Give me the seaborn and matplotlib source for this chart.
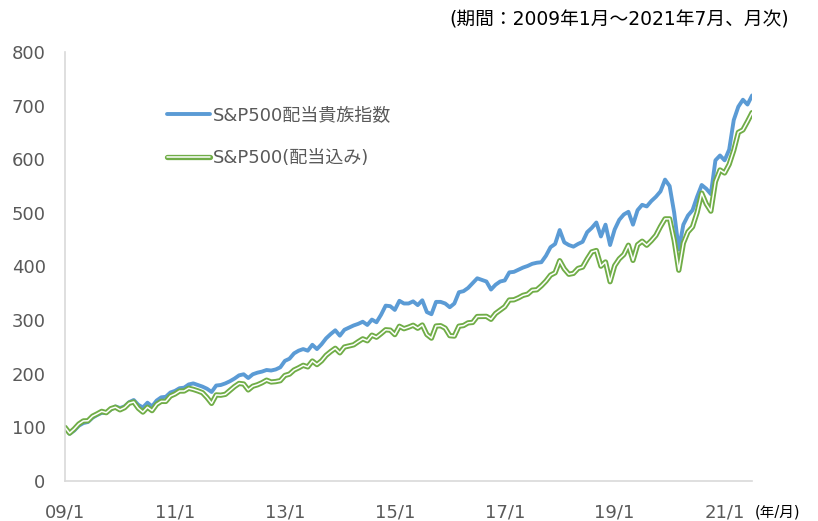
import numpy as np
import pandas as pd
import matplotlib
matplotlib.use('Agg')
import matplotlib.pyplot as plt
import matplotlib.patheffects as pe
import seaborn as sns

# monthly values, 2009/1 - 2021/7 (2009/1 = 100)
aristocrats = [
    100, 88, 94, 103, 108, 110, 118, 123, 127, 127, 133, 139,
    136, 139, 147, 151, 142, 137, 146, 139, 150, 156, 157, 165,
    168, 173, 174, 180, 182, 179, 176, 172, 166, 178, 179, 182,
    186, 191, 197, 199, 192, 199, 202, 204, 207, 206, 208, 212,
    224, 228, 238, 243, 246, 243, 254, 246, 255, 266, 274, 281,
    271, 282, 286, 290, 293, 297, 291, 301, 296, 310, 327, 326,
    319, 336, 331, 331, 335, 328, 337, 315, 311, 334, 334, 331,
    324, 331, 352, 354, 360, 369, 378, 375, 372, 357, 366, 372,
    374, 389, 390, 394, 398, 401, 405, 407, 408, 420, 436, 442,
    468, 445, 440, 437, 442, 446, 464, 472, 482, 456, 478, 440,
    469, 487, 497, 502, 478, 505, 515, 512, 522, 530, 540, 562,
    550, 500, 432, 478, 495, 505, 530, 552, 545, 535, 598, 607,
    598, 618, 673, 698, 711, 702, 719,
]
sp500_tr = [
    100.0, 89.2, 96.9, 106.2, 112.0, 112.3, 120.8, 125.1, 129.8, 127.4, 134.9, 137.6,
    132.7, 136.7, 145.0, 147.4, 135.6, 128.5, 137.5, 131.2, 143.0, 148.5, 148.4, 158.4,
    162.2, 167.7, 167.8, 172.9, 170.8, 168.0, 164.7, 155.6, 144.7, 160.5, 160.0, 161.6,
    168.9, 176.1, 181.9, 180.9, 169.8, 176.8, 179.4, 183.2, 188.0, 184.6, 185.4, 187.1,
    196.8, 199.3, 206.9, 211.0, 215.7, 212.8, 223.7, 217.1, 224.0, 234.3, 241.3, 247.4,
    239.0, 249.8, 251.9, 253.9, 259.7, 265.1, 261.5, 271.9, 268.1, 274.8, 282.0, 281.3,
    273.0, 288.5, 284.0, 286.9, 290.4, 284.8, 290.9, 273.1, 266.4, 289.0, 289.6, 285.0,
    271.0, 270.3, 288.7, 289.9, 294.9, 295.7, 306.7, 306.9, 307.0, 301.5, 312.4, 318.6,
    324.9, 337.5, 337.9, 341.6, 346.2, 348.4, 355.8, 356.6, 364.0, 372.8, 383.9, 388.3,
    410.8, 395.5, 385.5, 387.2, 396.3, 398.9, 413.9, 427.2, 429.8, 400.6, 408.4, 371.6,
    401.5, 414.2, 422.3, 439.7, 411.4, 440.5, 447.1, 439.7, 448.1, 458.0, 474.4, 488.8,
    488.8, 448.5, 393.0, 443.6, 464.5, 473.9, 500.8, 536.8, 516.6, 503.2, 558.3, 580.0,
    574.4, 590.5, 616.6, 650.1, 654.7, 670.4, 686.9,
]
tick_labels = ['09/1', '11/1', '13/1', '15/1', '17/1', '19/1', '21/1']
yticks = [0, 100, 200, 300, 400, 500, 600, 700, 800]

df = pd.DataFrame({'month': np.arange(len(aristocrats)),
                   'S&P500配当貴族指数': aristocrats,
                   'S&P500(配当込み)': sp500_tr})

sns.set_theme(style='white')
plt.rcParams['font.family'] = ['DejaVu Sans', 'Noto Sans CJK JP']
plt.rcParams['axes.unicode_minus'] = False

grey = '#595959'
axcol = '#d9d9d9'

fig = plt.figure(figsize=(8.18, 5.21), dpi=100)
ax = fig.add_axes([0.0795, 0.0768, 0.8399, 0.8234])

sns.lineplot(data=df, x='month', y='S&P500配当貴族指数', ax=ax, color='#5B9BD5',
             linewidth=2.8, label='S&P500配当貴族指数')
sns.lineplot(data=df, x='month', y='S&P500(配当込み)', ax=ax, color='white',
             linewidth=1.1, label='S&P500(配当込み)',
             path_effects=[pe.Stroke(linewidth=3.8, foreground='#70AD47'), pe.Normal()])

ax.set_xlim(0, len(aristocrats) - 1)
ax.set_ylim(0, 800)
ax.set_xticks(np.arange(0, len(aristocrats), 24))
ax.set_xticklabels(tick_labels)
ax.set_yticks(yticks)
ax.set_xlabel('')
ax.set_ylabel('')

for s in ['top', 'right']:
    ax.spines[s].set_visible(False)
for s in ['left', 'bottom']:
    ax.spines[s].set_color(axcol)
    ax.spines[s].set_linewidth(1.2)
ax.tick_params(axis='both', which='major', direction='out', length=5, width=1.2,
               color=axcol, labelcolor=grey, labelsize=13)
ax.tick_params(axis='y', pad=9)
ax.tick_params(axis='x', pad=11)
ax.grid(False)

leg = ax.legend(loc='center left', bbox_to_anchor=(0.1485, 0.803), frameon=False,
                fontsize=13, handlelength=2.4, handletextpad=0.15,
                labelspacing=1.4, borderpad=0, borderaxespad=0)
for t in leg.get_texts():
    t.set_color(grey)

fig.text(0.9645, 0.9616, '(期間：2009年1月～2021年7月、月次)', ha='right', va='center',
         fontsize=13.5, color='black')
fig.text(0.923, 0.0173, '(年/月)', ha='left', va='center', fontsize=10.5, color='black')

fig.savefig('out.png', dpi=100)
